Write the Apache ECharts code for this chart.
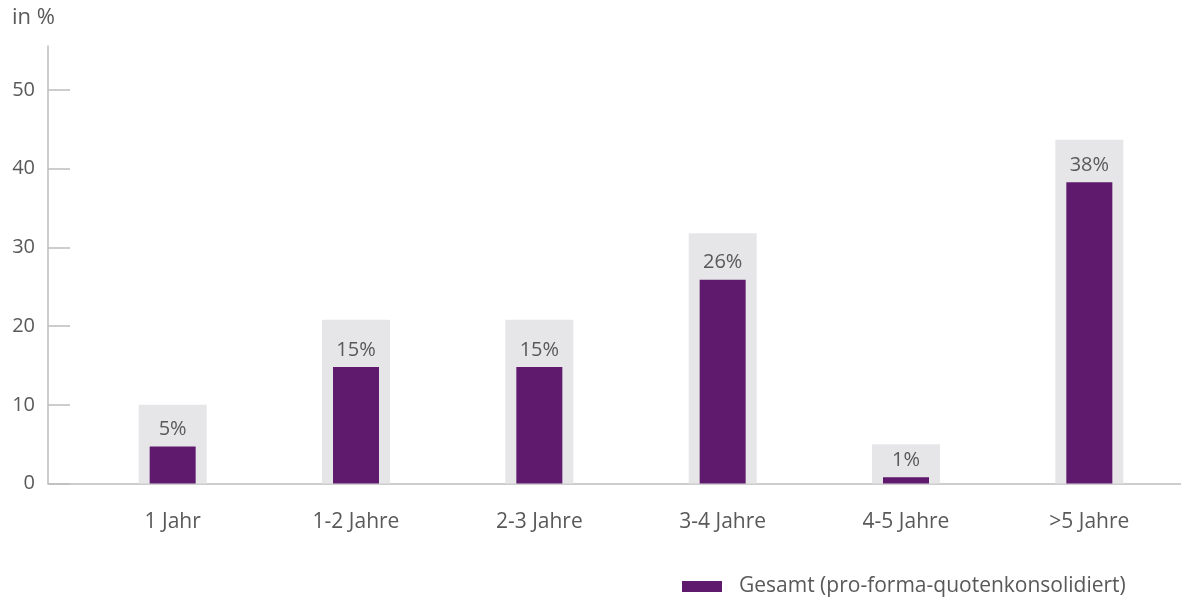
<!DOCTYPE html>
<html>
<head>
<meta charset="utf-8">
<script src="https://cdn.jsdelivr.net/npm/echarts@6/dist/echarts.min.js"></script>
<style>
html,body{margin:0;padding:0;background:#fff;}
#chart{width:1181px;height:599px;}
</style>
</head>
<body>
<div id="chart"></div>
<script>
const categories = ['1 Jahr', '1-2 Jahre', '2-3 Jahre', '3-4 Jahre', '4-5 Jahre', '>5 Jahre'];
const values = [4.7, 14.8, 14.8, 25.9, 0.8, 38.3];
const valueLabels = ['5%', '15%', '15%', '26%', '1%', '38%'];
const backgroundValues = [10.0, 20.8, 20.8, 31.8, 5.0, 43.7];
const yTicks = [0, 10, 20, 30, 40, 50];
const seriesName = 'Gesamt (pro-forma-quotenkonsolidiert)';

const textColor = '#595959';
const axisColor = '#bdbdbd';
const font = 'Open Sans';

const chart = echarts.init(document.getElementById('chart'), null, {renderer: 'canvas'});
chart.setOption({
  animation: false,
  backgroundColor: '#ffffff',
  textStyle: {fontFamily: font},
  title: {
    text: 'in %',
    left: 12, top: 7, padding: 0,
    textStyle: {fontFamily: font, fontSize: 22, fontWeight: 'normal', color: textColor}
  },
  legend: {
    data: [seriesName],
    left: 682, top: 576,
    padding: 0,
    itemWidth: 40, itemHeight: 11,
    icon: 'rect',
    textStyle: {fontFamily: font, fontSize: 21, color: textColor, padding: [0, 0, 0, 12]}
  },
  grid: [
    {left: 81, right: -7, top: 46, bottom: 115.5},
    {left: 48, right: 0, top: 46, bottom: 115.5}
  ],
  xAxis: [
    {
      type: 'category', gridIndex: 0, data: categories,
      axisLine: {show: false}, axisTick: {show: false},
      axisLabel: {fontFamily: font, fontSize: 21, color: textColor, margin: 28}
    },
    {
      type: 'category', gridIndex: 0, data: categories, show: false
    },
    {
      type: 'value', gridIndex: 1, min: 0, max: 1,
      axisLine: {show: true, onZero: false, lineStyle: {color: axisColor, width: 1.5}},
      axisTick: {show: false}, axisLabel: {show: false}, splitLine: {show: false}
    }
  ],
  yAxis: [
    {
      type: 'value', gridIndex: 0, min: 0, max: 55.6, interval: 10, offset: 33,
      axisLine: {show: true, lineStyle: {color: axisColor, width: 1.5}},
      axisTick: {show: true, inside: true, length: 22, customValues: yTicks, lineStyle: {color: axisColor, width: 1.5}},
      axisLabel: {fontFamily: font, fontSize: 20, color: textColor, margin: 13, customValues: yTicks},
      splitLine: {show: false}
    },
    {type: 'value', gridIndex: 1, show: false, min: 0, max: 1}
  ],
  series: [
    {
      name: 'bg', type: 'bar', xAxisIndex: 1, yAxisIndex: 0,
      data: backgroundValues, barWidth: 68,
      itemStyle: {color: '#e6e6e8'}, silent: true, z: 1
    },
    {
      name: seriesName, type: 'bar', xAxisIndex: 0, yAxisIndex: 0,
      data: values, barWidth: 46,
      itemStyle: {color: '#5f1a6e'}, z: 2,
      label: {
        show: true, position: 'top', distance: 7,
        fontFamily: font, fontSize: 20, color: textColor,
        formatter: p => valueLabels[p.dataIndex]
      }
    }
  ]
});
</script>
</body>
</html>
